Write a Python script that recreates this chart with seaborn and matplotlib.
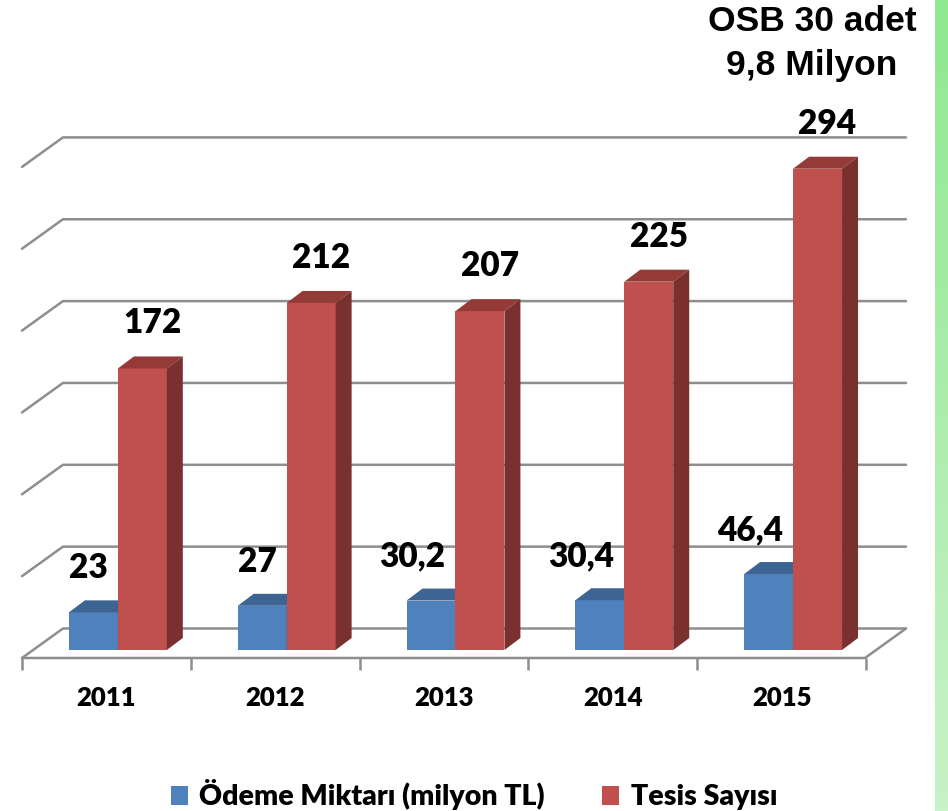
import numpy as np
import pandas as pd
import matplotlib
matplotlib.use("Agg")
import matplotlib.pyplot as plt
import seaborn as sns
from matplotlib.patches import Polygon, Patch
from matplotlib.colors import LinearSegmentedColormap

# data
years = ["2011", "2012", "2013", "2014", "2015"]
odeme = [23, 27, 30.2, 30.4, 46.4]
tesis = [172, 212, 207, 225, 294]
series_names = ["Ödeme Miktarı (milyon TL)", "Tesis Sayısı"]
grid_values = [0, 50, 100, 150, 200, 250, 300]

colors = ["#4F81BD", "#C0504D"]
top_colors = ["#3E6494", "#943B38"]
side_colors = ["#385A86", "#7A302F"]
grid_color = "#8E8E8E"
BOLD = "heavy"

W, H = 948, 811
PX_X = 169.0   # pixels per category
PX_Y = 1.637   # pixels per value unit

df = pd.DataFrame({
    "year": years * 2,
    "value": odeme + tesis,
    "series": [series_names[0]] * len(years) + [series_names[1]] * len(years),
})

sns.set_theme(style="white")
plt.rcParams["font.family"] = ["Lato", "DejaVu Sans"]
plt.rcParams["text.color"] = "black"
plt.rcParams["xtick.color"] = "black"

fig = plt.figure(figsize=(W / 100, H / 100), dpi=100)
ax_l, ax_r, ax_b = 22, 866, 658
ax = fig.add_axes([ax_l / W, (H - ax_b) / H, (ax_r - ax_l) / W, ax_b / H])

sns.barplot(data=df, x="year", y="value", hue="series", palette=colors,
            width=0.58, saturation=1, legend=False, ax=ax, zorder=3,
            linewidth=0, edgecolor="none")

x0 = -(118 - ax_l) / PX_X
y0 = -8 / PX_Y
ax.set_xlim(x0, x0 + (ax_r - ax_l) / PX_X)
ax.set_ylim(y0, y0 + ax_b / PX_Y)
x1 = ax.get_xlim()[1]

# walls and floor (pseudo 3D)
wdx, wdy = 41 / PX_X, 29.5 / PX_Y
for v in grid_values:
    yf = v + y0
    ax.plot([x0, x0 + wdx, x1 + wdx], [yf, yf + wdy, yf + wdy],
            color=grid_color, lw=1.8, clip_on=False, zorder=1)
ax.plot([x0, x1, x1 + wdx], [y0, y0, y0 + wdy],
        color=grid_color, lw=1.8, clip_on=False, zorder=1)

# bar depth faces
bdx, bdy = 16 / PX_X, 12 / PX_Y
n = len(years)
for i, p in enumerate(ax.patches):
    s = i // n
    bx, bw, bh = p.get_x(), p.get_width(), p.get_height()
    top = Polygon([(bx, bh), (bx + bw, bh), (bx + bw + bdx, bh + bdy), (bx + bdx, bh + bdy)],
                  closed=True, facecolor=top_colors[s], edgecolor="none", zorder=3 + s + 0.1)
    side = Polygon([(bx + bw, 0), (bx + bw, bh), (bx + bw + bdx, bh + bdy), (bx + bw + bdx, bdy)],
                   closed=True, facecolor=side_colors[s], edgecolor="none", zorder=3 + s + 0.1)
    p.set_zorder(3 + s)
    ax.add_patch(top)
    ax.add_patch(side)
    lab = f"{p.get_height():g}".replace(".", ",")
    if s == 0:
        ax.text(bx + bw - 10 / PX_X, bh + 44 / PX_Y, lab, ha="right", va="center",
                fontsize=24, fontweight=BOLD, color="black", zorder=6)
    else:
        ax.text(bx + bw / 2 + 10 / PX_X, bh + 45 / PX_Y, lab, ha="center", va="center",
                fontsize=24, fontweight=BOLD, color="black", zorder=6)

for sp in ax.spines.values():
    sp.set_visible(False)
ax.set_xticks(np.arange(n) + x0 + 0.5, years)
ax.set_xticks(x0 + np.arange(n + 1), minor=True)
ax.tick_params(axis="x", which="major", length=0, pad=20, labelsize=18.5, labelcolor="black")
ax.tick_params(axis="x", which="minor", bottom=True, length=8.6, width=1.8,
               color=grid_color, direction="out")
for t in ax.get_xticklabels():
    t.set_fontweight(BOLD)
ax.set_yticks([])
ax.set_xlabel("")
ax.set_ylabel("")
ax.patch.set_alpha(0)

# title block top right
fig.text(812 / W, 1 - 31 / H, "OSB 30 adet", ha="center", va="baseline", color="black",
         fontsize=25.5, fontweight="bold", family=["Liberation Sans", "DejaVu Sans"])
fig.text(812 / W, 1 - 75 / H, "9,8 Milyon", ha="center", va="baseline", color="black",
         fontsize=25.5, fontweight="bold", family=["Liberation Sans", "DejaVu Sans"])

# green strip at right edge
gax = fig.add_axes([935 / W, 0, 13 / W, 1])
cmap = LinearSegmentedColormap.from_list("strip", ["#90E890", "#C8F2C8"])
gax.imshow(np.linspace(0, 1, 100).reshape(-1, 1), aspect="auto", cmap=cmap)
gax.axis("off")

handles = [Patch(facecolor=c, edgecolor="none") for c in colors]
fig.legend(handles=handles, labels=series_names, loc="center",
           bbox_to_anchor=(474 / W, 1 - 795 / H), ncol=2, frameon=False,
           prop={"family": ["Lato", "DejaVu Sans"], "weight": BOLD, "size": 20.5},
           labelcolor="black",
           handlelength=0.6, handleheight=0.6, handletextpad=0.4, columnspacing=2.0)

fig.savefig("out.png", dpi=100)
